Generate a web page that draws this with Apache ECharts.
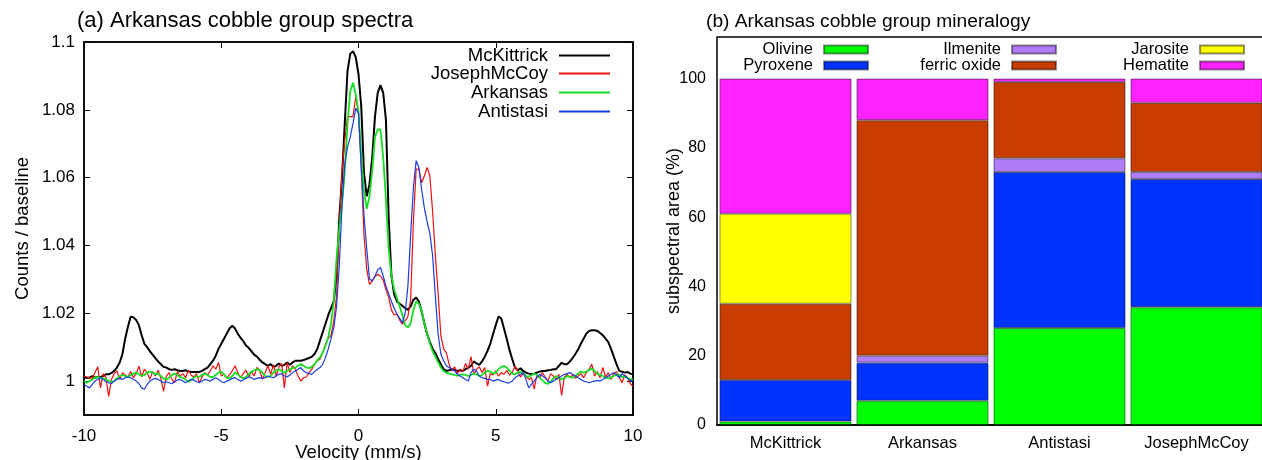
<!DOCTYPE html>
<html><head><meta charset="utf-8">
<script src="https://cdn.jsdelivr.net/npm/echarts@6/dist/echarts.min.js"></script>
<style>html,body{margin:0;padding:0;background:#fff}#c{width:1262px;height:460px}</style>
</head><body><div id="c"></div>
<script>
// ---- panel (a): Mössbauer spectra ----
const velocity = [
-10,-9.9,-9.8,-9.7,-9.6,-9.5,-9.4,-9.3,-9.2,-9.1,
-9,-8.9,-8.8,-8.7,-8.6,-8.5,-8.4,-8.3,-8.2,-8.1,
-8,-7.9,-7.8,-7.7,-7.6,-7.5,-7.4,-7.3,-7.2,-7.1,
-7,-6.9,-6.8,-6.7,-6.6,-6.5,-6.4,-6.3,-6.2,-6.1,
-6,-5.9,-5.8,-5.7,-5.6,-5.5,-5.4,-5.3,-5.2,-5.1,
-5,-4.9,-4.8,-4.7,-4.6,-4.5,-4.4,-4.3,-4.2,-4.1,
-4,-3.9,-3.8,-3.7,-3.6,-3.5,-3.4,-3.3,-3.2,-3.1,
-3,-2.9,-2.8,-2.7,-2.6,-2.5,-2.4,-2.3,-2.2,-2.1,
-2,-1.9,-1.8,-1.7,-1.6,-1.5,-1.4,-1.3,-1.2,-1.1,
-1,-0.9,-0.8,-0.7,-0.6,-0.5,-0.4,-0.3,-0.2,-0.1,
0,0.1,0.2,0.3,0.4,0.5,0.6,0.7,0.8,0.9,
1,1.1,1.2,1.3,1.4,1.5,1.6,1.7,1.8,1.9,
2,2.1,2.2,2.3,2.4,2.5,2.6,2.7,2.8,2.9,
3,3.1,3.2,3.3,3.4,3.5,3.6,3.7,3.8,3.9,
4,4.1,4.2,4.3,4.4,4.5,4.6,4.7,4.8,4.9,
5,5.1,5.2,5.3,5.4,5.5,5.6,5.7,5.8,5.9,
6,6.1,6.2,6.3,6.4,6.5,6.6,6.7,6.8,6.9,
7,7.1,7.2,7.3,7.4,7.5,7.6,7.7,7.8,7.9,
8,8.1,8.2,8.3,8.4,8.5,8.6,8.7,8.8,8.9,
9,9.1,9.2,9.3,9.4,9.5,9.6,9.7,9.8,9.9,
10];
const mcKittrick = [
1.001,1.001,1.001,1.0015,1.001,1.0012,1.0012,1.0015,1.002,1.002,
1.0024,1.003,1.004,1.0055,1.008,1.0125,1.016,1.019,1.0188,1.018,
1.0165,1.0135,1.011,1.01,1.0088,1.0078,1.0068,1.0058,1.005,1.0042,
1.004,1.0035,1.0033,1.0035,1.0032,1.003,1.003,1.0032,1.0028,1.0027,
1.0027,1.0027,1.0027,1.003,1.0035,1.004,1.005,1.006,1.0075,1.0095,
1.011,1.0125,1.014,1.0155,1.0163,1.0155,1.014,1.0128,1.0118,1.0105,
1.0098,1.0088,1.0078,1.0072,1.0063,1.0055,1.005,1.0045,1.005,1.0042,
1.0045,1.0052,1.0045,1.0048,1.0055,1.0048,1.0055,1.006,1.006,1.006,
1.0062,1.0065,1.0068,1.0072,1.008,1.0095,1.012,1.0145,1.017,1.0195,
1.0215,1.0236,1.031,1.048,1.06,1.076,1.0915,1.0965,1.0973,1.0955,
1.0905,1.081,1.0615,1.0545,1.058,1.066,1.078,1.085,1.0873,1.085,
1.077,1.048,1.031,1.0255,1.0235,1.0228,1.0222,1.0215,1.021,1.022,
1.024,1.0246,1.0235,1.0205,1.017,1.0139,1.0115,1.0095,1.0083,1.0065,
1.005,1.0035,1.003,1.0032,1.0035,1.0033,1.003,1.0032,1.003,1.0035,
1.004,1.0045,1.0058,1.0052,1.0048,1.0058,1.0072,1.0089,1.011,1.0138,
1.0165,1.019,1.0185,1.0155,1.0125,1.0092,1.0065,1.004,1.0032,1.0038,
1.003,1.0025,1.0022,1.002,1.0022,1.0025,1.0028,1.003,1.003,1.0032,
1.0033,1.0035,1.0035,1.0045,1.0054,1.005,1.005,1.0058,1.0068,1.008,
1.0093,1.011,1.0125,1.014,1.0148,1.015,1.015,1.0148,1.0142,1.0135,
1.0125,1.0115,1.0095,1.0072,1.005,1.003,1.0028,1.0025,1.0027,1.0022,
1.002];
const josephMcCoy = [
1.0015,1.0012,1.001,1.0008,1.0025,1.0042,0.998,1.0022,1.001,0.9955,
1.0005,1.0022,1.003,1.0005,1.0025,1.0018,1.0012,1.0028,1.001,1.0022,
1.0044,1.0012,1.0035,1.0025,1.0005,1.0028,1.0015,1.0032,1.0008,0.997,
1.0015,1.0025,1.0005,0.9995,1.0028,1.0015,1.0022,1.001,1.0032,1.0018,
1.0012,1.0022,0.9995,1.0012,1.0025,1.0018,1.003,1.0045,1.0035,1.0055,
1.0015,1.002,1.0008,1.0018,1.003,1.0045,1.0025,1.001,1.0022,1.0032,
1.0012,1.0028,1.0015,1.004,1.0032,1.0005,1.0025,1.0045,1.002,1.0048,
1.0015,1.0042,1.0052,0.998,1.0055,1.0025,1.0045,1.0035,1.0015,1.0,
1.001,1.0012,1.0025,1.0035,1.005,1.006,1.0065,1.0085,1.011,1.0125,
1.0135,1.0177,1.025,1.045,1.062,1.071,1.078,1.078,1.078,1.084,
1.079,1.063,1.043,1.033,1.0285,1.0295,1.0308,1.0315,1.031,1.0298,
1.027,1.0246,1.021,1.0195,1.0198,1.018,1.0168,1.0178,1.019,1.024,
1.047,1.0625,1.0625,1.0585,1.0605,1.063,1.0605,1.05,1.037,1.026,
1.0135,1.0095,1.0084,1.005,1.003,1.0042,1.0022,1.0035,1.0028,1.0052,
1.0035,1.0072,1.002,1.0035,1.0042,1.0025,1.004,0.9985,1.0022,1.0018,
1.003,1.0015,1.0025,1.002,1.0032,1.0018,1.0025,1.0044,1.003,1.0012,
1.0022,1.0015,1.0005,1.001,0.9976,1.0018,1.001,1.0025,1.0012,1.0,
1.0022,1.0015,1.0005,1.002,0.9958,1.0012,1.002,1.001,1.0018,1.0008,
1.0015,1.0022,1.001,1.0025,1.0035,1.005,1.0015,1.0028,1.001,1.004,
1.0012,1.0025,1.0005,1.0022,1.0028,1.0012,0.9995,1.0018,1.001,0.9992,
0.9985];
const arkansas = [
1.0,0.9995,1.0,1.0005,1.001,1.0012,1.001,1.0008,1.0005,1.0,
0.9998,1.0,1.0008,1.0015,1.0018,1.0015,1.0012,1.0018,1.0022,1.0025,
1.002,1.0015,1.0018,1.0025,1.0028,1.0025,1.002,1.0022,1.0015,1.0008,
1.0005,1.001,1.0018,1.0022,1.0018,1.0012,1.001,1.0005,0.9998,1.0002,
1.001,1.0015,1.0012,1.0018,1.0022,1.0018,1.0012,1.0012,1.0018,1.0025,
1.0028,1.002,1.001,1.0008,1.0015,1.0025,1.002,1.0012,1.0008,1.0012,
1.002,1.0028,1.0032,1.0035,1.0033,1.0025,1.0015,1.0012,1.0015,1.0025,
1.0032,1.0035,1.003,1.0025,1.003,1.0035,1.0038,1.004,1.0045,1.005,
1.0045,1.004,1.0038,1.0042,1.005,1.0062,1.007,1.0085,1.0105,1.013,
1.017,1.0236,1.036,1.045,1.052,1.062,1.076,1.0855,1.088,1.0845,
1.0795,1.067,1.056,1.0508,1.0545,1.062,1.072,1.0742,1.0742,1.066,
1.0535,1.039,1.031,1.027,1.0245,1.022,1.0195,1.0165,1.0158,1.017,
1.021,1.0235,1.0228,1.0208,1.017,1.014,1.011,1.0088,1.0072,1.0055,
1.004,1.003,1.0025,1.0022,1.002,1.0018,1.0015,1.0018,1.002,1.0018,
1.0015,1.0018,1.0022,1.002,1.0015,1.0018,1.0025,1.003,1.0028,1.0022,
1.0025,1.0035,1.0042,1.0044,1.004,1.003,1.0022,1.002,1.0025,1.0028,
1.0022,1.0015,1.0012,1.0018,1.0022,1.0018,1.001,1.0002,0.9995,0.9992,
0.9998,1.0008,1.0015,1.001,1.0005,1.0008,1.0015,1.0012,1.001,1.0015,
1.0022,1.0028,1.0025,1.0028,1.0033,1.0036,1.003,1.0022,1.0018,1.0015,
1.001,1.0008,1.001,1.0015,1.002,1.0018,1.0012,1.0012,1.001,1.0005,
1.0005];
const antistasi = [
0.999,0.9985,0.998,0.999,1.0,1.0005,1.001,1.0005,0.9998,0.9995,
0.9993,1.0,1.0005,1.0008,1.0005,1.001,1.0012,1.001,1.0005,1.0,
0.9993,0.998,0.9976,0.999,1.0,1.0005,1.0008,1.0005,1.0,0.9995,
0.9998,0.9995,0.9992,0.9998,1.0003,1.0005,1.0,0.9995,1.0,1.0005,
1.0003,0.9998,0.9995,1.0,1.0005,1.0003,1.0,1.0005,1.001,1.0005,
0.9998,0.9995,1.0,1.0003,1.0008,1.001,1.0005,1.0,1.0003,1.0008,
1.0012,1.001,1.0005,1.0008,1.001,1.0008,1.001,1.0015,1.0012,1.001,
1.0015,1.002,1.0022,1.0015,1.0012,1.0018,1.0025,1.003,1.0035,1.004,
1.003,1.0025,1.0022,1.002,1.0028,1.0035,1.004,1.005,1.007,1.0095,
1.0125,1.0157,1.022,1.034,1.052,1.064,1.069,1.072,1.076,1.0805,
1.079,1.063,1.049,1.039,1.0302,1.0295,1.031,1.0328,1.0335,1.031,
1.028,1.0257,1.0235,1.0215,1.0198,1.0185,1.0172,1.02,1.028,1.043,
1.057,1.065,1.063,1.0565,1.051,1.047,1.0435,1.037,1.025,1.014,
1.008,1.006,1.0045,1.004,1.0035,1.003,1.002,1.0015,1.001,1.0005,
1.0,1.0025,1.0035,1.003,1.0015,1.001,1.0008,1.0005,1.0005,1.0,
1.0003,1.0005,1.0,0.9998,0.9995,0.9995,1.0,1.001,1.0015,1.002,
1.0025,1.0005,0.998,0.999,1.0,1.001,1.002,1.0015,1.001,1.0,
0.9995,1.0,1.0005,1.001,1.0015,1.002,1.0022,1.0025,1.002,1.0015,
1.001,1.0005,1.0,0.9998,0.9995,0.9998,1.0,1.0002,1.0,1.0005,
1.001,1.0015,1.002,1.0025,1.0018,1.001,1.0022,1.0015,1.0008,1.0002,
1.0];
const spectraNames = ['McKittrick', 'JosephMcCoy', 'Arkansas', 'Antistasi'];
const ratioTicks = [1, 1.02, 1.04, 1.06, 1.08, 1.1];

// ---- panel (b): mineralogy (subspectral area %) ----
const samples = ['McKittrick', 'Arkansas', 'Antistasi', 'JosephMcCoy'];
const minerals = ['Olivine', 'Pyroxene', 'Ilmenite', 'ferric oxide', 'Jarosite', 'Hematite'];
const olivine = [1, 7, 28, 34];
const pyroxene = [12, 11, 45, 37];
const ilmenite = [0, 2, 4, 2];
const ferricOxide = [22, 68, 22, 20];
const jarosite = [26, 0, 0, 0];
const hematite = [39, 12, 1, 7];
const areaTicks = [0, 20, 40, 60, 80, 100];

// ---- build chart ----
const FONT = '"Liberation Sans", Arial, sans-serif';
const lineColors = ['#000000', '#ee1111', '#14dd22', '#1a3de0'];
const lineWidths = [2, 1.2, 1.8, 1.2];
const barColors = ['#00ff00', '#0033ff', '#b07cf8', '#c83c00', '#ffff00', '#ff22ff'];
const spectra = [mcKittrick, josephMcCoy, arkansas, antistasi];
const mineralData = [olivine, pyroxene, ilmenite, ferricOxide, jarosite, hematite];
const fmt = v => String(Math.round(v * 100) / 100);
const black = '#000';

const lineLegendTops = [46, 64, 83, 102];
const legends = spectraNames.map((n, i) => ({
  data: [n], right: 651, top: lineLegendTops[i], padding: 0, itemGap: 0,
  align: 'right', itemWidth: 51, itemHeight: 4, selectedMode: false,
  itemStyle: { opacity: 0 },
  textStyle: { fontSize: 18.5, fontFamily: FONT, color: black, padding: [0, 6, 0, 0] }
}));
const barLegendRight = [393, 205, 17];
const barLegendTop = [41, 57];
minerals.forEach((m, i) => {
  legends.push({
    data: [m], right: barLegendRight[Math.floor(i / 2)], top: barLegendTop[i % 2],
    padding: 0, itemGap: 0, align: 'right', itemWidth: 44, itemHeight: 8,
    icon: 'rect', selectedMode: false,
    textStyle: { fontSize: 16.5, fontFamily: FONT, color: black, padding: [0, 6, 0, 0] }
  });
});

const series = spectraNames.map((n, i) => ({
  name: n, type: 'line', xAxisIndex: 0, yAxisIndex: 0, symbol: 'none',
  data: velocity.map((v, k) => [v, spectra[i][k]]),
  lineStyle: { color: lineColors[i], width: lineWidths[i] },
  itemStyle: { color: lineColors[i] }, z: 2 + i
}));
minerals.forEach((m, i) => {
  series.push({
    name: m, type: 'bar', stack: 'area', xAxisIndex: 2, yAxisIndex: 2,
    barCategoryGap: '3.6%',
    data: mineralData[i].map(v => (v === 0 ? null : v)),
    itemStyle: { color: barColors[i], borderColor: 'rgba(0,0,0,0.45)', borderWidth: 1 }
  });
});

const tickStyle = { inside: true, length: 6, lineStyle: { color: black, width: 1 } };
const lineAx = { onZero: false, lineStyle: { color: black, width: 1.5 } };
const labelStyle = (size, margin) => ({ fontSize: size, fontFamily: FONT, color: black, margin });

const option = {
  animation: false,
  backgroundColor: '#fff',
  title: [
    { text: '(a) Arkansas cobble group spectra', left: 77, top: 10, padding: 0,
      textStyle: { fontSize: 22, fontWeight: 'normal', color: black, fontFamily: FONT } },
    { text: '(b) Arkansas cobble group mineralogy', left: 706, top: 12, padding: 0,
      textStyle: { fontSize: 19.2, fontWeight: 'normal', color: black, fontFamily: FONT } }
  ],
  legend: legends,
  grid: [
    { left: 84, top: 42, width: 549, height: 373, show: true, borderColor: black, borderWidth: 1.5,
      outerBoundsMode: 'none', containLabel: false },
    { left: 717, top: 37, width: 548, height: 388, show: true, borderColor: black, borderWidth: 1.5,
      outerBoundsMode: 'none', containLabel: false }
  ],
  xAxis: [
    { type: 'value', gridIndex: 0, min: -10, max: 10, interval: 5, position: 'bottom',
      axisLine: lineAx, axisTick: tickStyle, splitLine: { show: false },
      axisLabel: labelStyle(17, 13),
      name: 'Velocity (mm/s)', nameLocation: 'middle', nameGap: 28, nameMoveOverlap: false,
      nameTextStyle: { fontSize: 18.5, fontFamily: FONT, color: black } },
    { type: 'value', gridIndex: 0, min: -10, max: 10, interval: 5, position: 'top',
      axisLine: lineAx, axisTick: tickStyle, splitLine: { show: false },
      axisLabel: { show: false } },
    { type: 'category', gridIndex: 1, data: samples, position: 'bottom',
      axisLine: lineAx, axisTick: { show: false }, splitLine: { show: false },
      axisLabel: labelStyle(16.5, 10) }
  ],
  yAxis: [
    { type: 'value', gridIndex: 0, min: 0.99, max: 1.1, position: 'left',
      axisLine: lineAx, splitLine: { show: false },
      axisTick: Object.assign({ customValues: ratioTicks }, tickStyle),
      axisLabel: Object.assign({ customValues: ratioTicks, formatter: fmt }, labelStyle(17, 9)),
      name: 'Counts / baseline', nameLocation: 'middle', nameGap: 52, nameRotate: 90,
      nameMoveOverlap: false,
      nameTextStyle: { fontSize: 18.5, fontFamily: FONT, color: black } },
    { type: 'value', gridIndex: 0, min: 0.99, max: 1.1, position: 'right',
      axisLine: lineAx, splitLine: { show: false },
      axisTick: Object.assign({ customValues: ratioTicks }, tickStyle),
      axisLabel: { show: false } },
    { type: 'value', gridIndex: 1, min: 0, max: 112, position: 'left',
      axisLine: lineAx, splitLine: { show: false },
      axisTick: Object.assign({ customValues: areaTicks }, tickStyle),
      axisLabel: Object.assign({ customValues: areaTicks }, labelStyle(16, 11)),
      name: 'subspectral area (%)', nameLocation: 'middle', nameGap: 34, nameRotate: 90,
      nameMoveOverlap: false,
      nameTextStyle: { fontSize: 18, fontFamily: FONT, color: black } }
  ],
  series
};
const chart = echarts.init(document.getElementById('c'), null, { renderer: 'canvas' });
chart.setOption(option);
</script>
</body></html>
